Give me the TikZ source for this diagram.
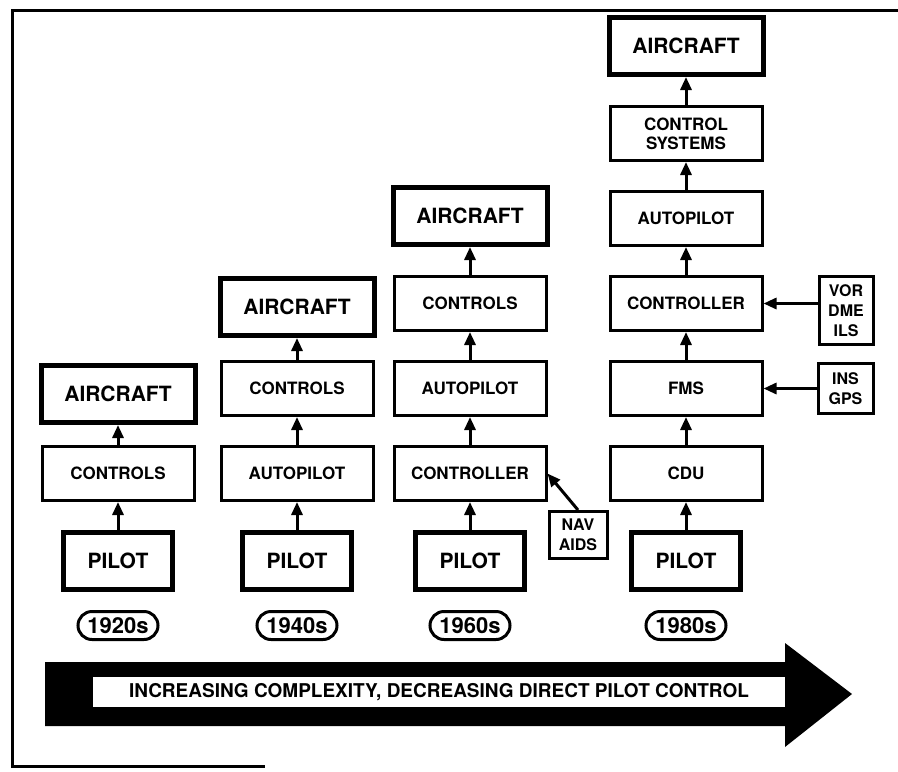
\documentclass[tikz,border=0pt]{standalone}
\usepackage{fontspec}
\setmainfont{TeX Gyre Heros}
\usepackage{tikz}
\usetikzlibrary{arrows.meta,positioning}
\tikzset{
  stage/.style={draw, line width=3pt, fill=white, align=center, minimum width=152pt, minimum height=54pt, inner sep=2pt, font=\fontsize{17}{19}\selectfont\bfseries},
  endpoint/.style={draw, line width=5pt, fill=white, align=center, minimum height=57pt, inner sep=2pt, font=\fontsize{21}{24}\selectfont\bfseries},
  craft/.style={endpoint, minimum width=154pt},
  pilot/.style={endpoint, minimum width=109pt},
  navbox/.style={draw, line width=3pt, fill=white, align=center, inner sep=2pt, font=\fontsize{16}{20}\selectfont\bfseries},
  era/.style={draw, line width=3pt, rounded corners=14pt, minimum width=80pt, minimum height=28pt, inner sep=1pt, font=\fontsize{22}{24}\selectfont\bfseries},
  arrow/.style={-{Triangle[width=11pt,length=13pt]}, line width=3pt}
}

\begin{document}
\begin{tikzpicture}[x=1pt, y=-1pt, node distance=28pt]
  \useasboundingbox (0,0) rectangle (898,772);
  \draw[line width=3pt] (898,10) -- (12,10) -- (12,766) -- (265,766);

  % 1920s
  \node[pilot] (pilot20) at (118,561) {PILOT};
  \node[stage, above=of pilot20] (ctl20) {CONTROLS};
  \node[craft, above=20pt of ctl20] (air20) {AIRCRAFT};
  \node[era, below=18pt of pilot20] (year20) {1920s};

  % 1940s
  \node[pilot] (pilot40) at (297,561) {PILOT};
  \node[stage, above=of pilot40] (auto40) {AUTOPILOT};
  \node[stage, above=of auto40] (ctl40) {CONTROLS};
  \node[craft, above=22pt of ctl40] (air40) {AIRCRAFT};
  \node[era, below=18pt of pilot40] (year40) {1940s};

  % 1960s
  \node[pilot] (pilot60) at (470,561) {PILOT};
  \node[stage, above=of pilot60] (ctrl60) {CONTROLLER};
  \node[stage, above=of ctrl60] (auto60) {AUTOPILOT};
  \node[stage, above=of auto60] (ctl60) {CONTROLS};
  \node[craft, above=of ctl60] (air60) {AIRCRAFT};
  \node[era, below=18pt of pilot60] (year60) {1960s};
  \node[navbox, minimum width=58pt, minimum height=47pt, below right=8pt and 0pt of ctrl60] (nav60) {NAV\\AIDS};

  % 1980s
  \node[pilot] (pilot80) at (686,561) {PILOT};
  \node[stage, above=of pilot80] (cdu80) {CDU};
  \node[stage, above=of cdu80] (fms80) {FMS};
  \node[stage, above=of fms80] (ctrl80) {CONTROLLER};
  \node[stage, above=of ctrl80] (auto80) {AUTOPILOT};
  \node[stage, above=of auto80] (sys80) {CONTROL\\SYSTEMS};
  \node[craft, above=of sys80] (air80) {AIRCRAFT};
  \node[era, below=18pt of pilot80] (year80) {1980s};
  \node[navbox, minimum width=54pt, minimum height=68pt, right=54pt of ctrl80, yshift=-7pt] (vor80) {VOR\\DME\\ILS};
  \node[navbox, minimum width=55pt, minimum height=50pt, right=53pt of fms80] (ins80) {INS\\GPS};

  \draw[arrow] (pilot20) -- (ctl20);
  \draw[arrow] (ctl20) -- (air20);
  \draw[arrow] (pilot40) -- (auto40);
  \draw[arrow] (auto40) -- (ctl40);
  \draw[arrow] (ctl40) -- (air40);
  \draw[arrow] (pilot60) -- (ctrl60);
  \draw[arrow] (ctrl60) -- (auto60);
  \draw[arrow] (auto60) -- (ctl60);
  \draw[arrow] (ctl60) -- (air60);
  \draw[arrow] (nav60.north) -- (ctrl60.east);
  \draw[arrow] (pilot80) -- (cdu80);
  \draw[arrow] (cdu80) -- (fms80);
  \draw[arrow] (fms80) -- (ctrl80);
  \draw[arrow] (ctrl80) -- (auto80);
  \draw[arrow] (auto80) -- (sys80);
  \draw[arrow] (sys80) -- (air80);
  \draw[arrow] (vor80.west |- ctrl80) -- (ctrl80.east);
  \draw[arrow] (ins80) -- (fms80);

  % trend arrow
  \fill (45,662) -- (785,662) -- (785,643) -- (852,694) -- (785,747) -- (785,726) -- (45,726) -- cycle;
  \node[fill=white, minimum width=692pt, minimum height=30pt, inner sep=0pt, font=\fontsize{19}{22}\selectfont\bfseries] (trend) at (439,692) {INCREASING COMPLEXITY, DECREASING DIRECT PILOT CONTROL};
\end{tikzpicture}
\end{document}
